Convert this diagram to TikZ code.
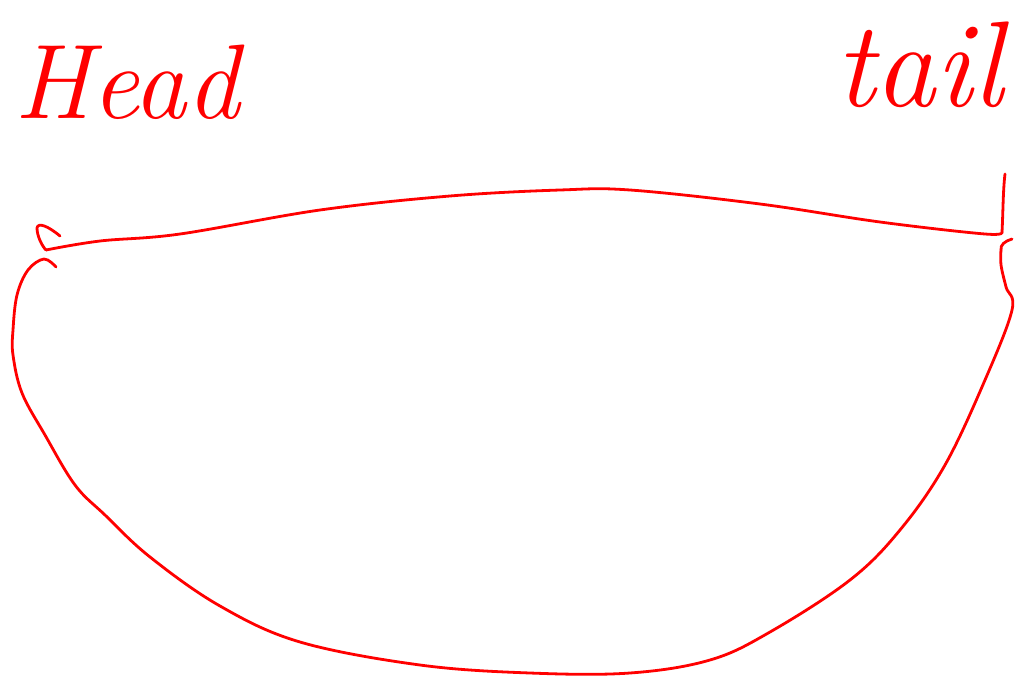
\documentclass[tikz,border=0pt]{standalone}
\begin{document}
\begin{tikzpicture}[x=1pt,y=-1pt,
  ink/.style={draw=red,line width=2.8pt,line cap=round,line join=round},
  lbl/.style={text=red,inner sep=0pt,font=\itshape}]
\useasboundingbox (0,0) rectangle (1018,678);
% labels
\node[lbl,anchor=base west,font=\fontsize{106}{106}\selectfont\itshape] (head) at (14,118) {Head};
\node[lbl,anchor=base west,font=\fontsize{122}{122}\selectfont\itshape] (tail) at (835,106) {tail};
% head arrow hook
\draw[ink] (60,236) .. controls (48,226) and (38,222) .. (37,228) .. controls (37,236) and (42,246) .. (46,250);
% top line
\draw[ink] plot[smooth,tension=0.6] coordinates {(46,250) (100,241) (180,234) (320,210) (450,196) (560,190) (630,190) (760,204) (880,222) (985,234) (1002,232)};
% tail vertical stroke
\draw[ink] (1002,232) .. controls (1003,215) and (1003,190) .. (1005,174);
% tail tick
\draw[ink] (1012,239) .. controls (1005,241) and (1000,245) .. (1001,250);
% bottom curve
\draw[ink] plot[smooth,tension=0.6] coordinates {(56,267) (44,259) (28,270) (17,295) (13,330) (13,355) (22,393) (45,435) (75,485) (105,515) (150,557) (220,606) (300,642) (420,665) (530,673) (630,673) (710,660) (770,632) (850,580) (900,530) (945,465) (985,380) (1012,310) (1006,287) (1001,265) (1001,250)};
\end{tikzpicture}
\end{document}
